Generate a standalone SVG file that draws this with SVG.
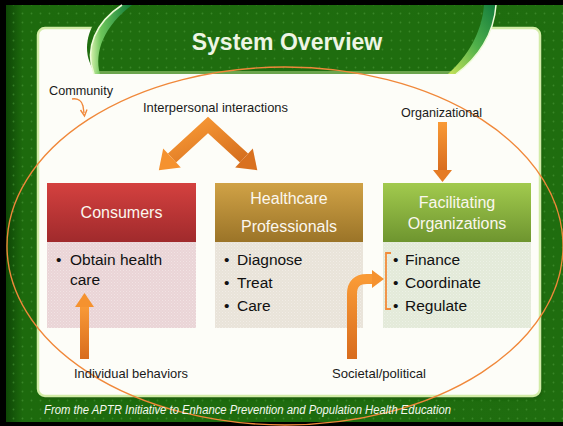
<svg xmlns="http://www.w3.org/2000/svg" width="563" height="426" viewBox="0 0 563 426">
  <defs>
    <style>
      .lbl { font-family: "Liberation Sans", Arial, sans-serif; font-size: 13px; fill: #1a1a1a; }
      .hdr { font-family: "Liberation Sans", Arial, sans-serif; font-size: 16px; fill: #fbf7ef; text-anchor: middle; }
      .item { font-family: "Liberation Sans", Arial, sans-serif; font-size: 15.5px; fill: #111; }
      .title { font-family: "Liberation Sans", Arial, sans-serif; font-size: 23px; font-weight: bold; fill: #eef5e4; text-anchor: middle; }
      .foot { font-family: "Liberation Sans", Arial, sans-serif; font-size: 12.5px; font-style: italic; fill: #f4f8ee; }
      .ring { fill: none; stroke: #f0883a; stroke-width: 1.4; }
      .shaft { fill: none; stroke-linejoin: miter; stroke-linecap: butt; }
    </style>
    <pattern id="dots" width="9" height="9" patternUnits="userSpaceOnUse">
      <circle cx="4.5" cy="4.5" r="0.9" fill="#4f9a3c" opacity="0.55"/>
    </pattern>
    <pattern id="weave" width="3" height="3" patternUnits="userSpaceOnUse">
      <rect x="0" y="0" width="1" height="1" fill="#ffffff" opacity="0.35"/>
      <rect x="1.5" y="1.5" width="1" height="1" fill="#ffffff" opacity="0.25"/>
    </pattern>
    <linearGradient id="bgEdge" x1="0" y1="0" x2="1" y2="0">
      <stop offset="0" stop-color="#0e4606"/>
      <stop offset="0.03" stop-color="#1d6a0d"/>
      <stop offset="1" stop-color="#1f6d0f"/>
    </linearGradient>
    <linearGradient id="gRed" x1="0" y1="0" x2="0" y2="1">
      <stop offset="0" stop-color="#d4413f"/>
      <stop offset="1" stop-color="#a02a2c"/>
    </linearGradient>
    <linearGradient id="gGold" x1="0" y1="0" x2="0" y2="1">
      <stop offset="0" stop-color="#d0a246"/>
      <stop offset="1" stop-color="#9b7428"/>
    </linearGradient>
    <linearGradient id="gGreen" x1="0" y1="0" x2="0" y2="1">
      <stop offset="0" stop-color="#a2ca4e"/>
      <stop offset="1" stop-color="#6e952f"/>
    </linearGradient>
    <linearGradient id="gOrange" x1="0" y1="0" x2="0" y2="1">
      <stop offset="0" stop-color="#f99a36"/>
      <stop offset="1" stop-color="#d86c1e"/>
    </linearGradient>
    <linearGradient id="gOrangeDiag" x1="0" y1="0" x2="1" y2="1">
      <stop offset="0" stop-color="#f99a36"/>
      <stop offset="1" stop-color="#d6701f"/>
    </linearGradient>
    <linearGradient id="swL" x1="0" y1="0" x2="1" y2="0">
      <stop offset="0" stop-color="#d9f2b0"/>
      <stop offset="0.25" stop-color="#6cc55a"/>
      <stop offset="1" stop-color="#0f7a3a"/>
    </linearGradient>
    <linearGradient id="swR" x1="0" y1="1" x2="1" y2="0">
      <stop offset="0" stop-color="#c8e35a"/>
      <stop offset="0.5" stop-color="#4fb04a"/>
      <stop offset="1" stop-color="#117a3c"/>
    </linearGradient>
    <filter id="soft" x="-5%" y="-5%" width="110%" height="110%">
      <feGaussianBlur stdDeviation="1.5"/>
    </filter>
  </defs>

  <!-- frame and green backdrop -->
  <rect x="0" y="0" width="563" height="426" fill="#000"/>
  <rect x="6" y="5" width="557" height="417" fill="url(#bgEdge)"/>
  <rect x="6" y="5" width="557" height="417" fill="url(#dots)"/>

  <!-- content panel -->
  <rect x="38" y="28" width="502" height="369" rx="8" fill="#1a5208" opacity="0.6" filter="url(#soft)" transform="translate(2,2)"/>
  <rect x="38" y="28" width="502" height="368" rx="7" fill="#fdfdf8" stroke="#d2eca6" stroke-width="2.5"/>

  <!-- title tab -->
  <path d="M 96,20 C 84,38 84,58 96,74 L 454,74 C 470,58 482,40 494,20 Z" fill="#1f6d0f"/>
  <path d="M 96,20 C 84,38 84,58 96,74 L 454,74 C 470,58 482,40 494,20 Z" fill="url(#dots)"/>
  <rect x="96" y="71" width="358" height="3" fill="#b9dd8e" opacity="0.5"/>
  <path d="M 122,5 C 96,22 84,48 94,74 L 100,74 C 94,52 104,26 132,5 Z" fill="url(#swL)"/>
  <path d="M 122,5 C 96,22 84,48 94,74" fill="none" stroke="#eefbd8" stroke-width="1.5"/>
  <path d="M 496,5 C 494,34 478,58 456,74 L 448,74 C 468,56 482,32 484,5 Z" fill="url(#swR)"/>
  <path d="M 496,5 C 494,34 478,58 456,74" fill="none" stroke="#eefbd8" stroke-width="1.5"/>
  <text class="title" x="287" y="50">System Overview</text>

  <!-- community boundary -->
  <ellipse class="ring" cx="285" cy="246" rx="278" ry="179"/>

  <!-- nodes -->
  <g id="consumers">
    <rect x="47" y="183" width="149" height="59" fill="url(#gRed)"/>
    <rect x="47" y="242" width="149" height="86" fill="#ead4d6"/>
    <rect x="47" y="242" width="149" height="86" fill="url(#weave)"/>
    <text class="hdr" x="121.5" y="218">Consumers</text>
    <text class="item" x="56" y="265">•</text>
    <text class="item" x="70" y="265">Obtain health</text>
    <text class="item" x="70" y="285">care</text>
  </g>

  <g id="healthcare-professionals">
    <rect x="215" y="183" width="148" height="59" fill="url(#gGold)"/>
    <rect x="215" y="242" width="148" height="86" fill="#e9e3d9"/>
    <rect x="215" y="242" width="148" height="86" fill="url(#weave)"/>
    <text class="hdr" x="289" y="204">Healthcare</text>
    <text class="hdr" x="289" y="232">Professionals</text>
    <text class="item" x="224" y="265">•</text>
    <text class="item" x="237" y="265">Diagnose</text>
    <text class="item" x="224" y="288">•</text>
    <text class="item" x="237" y="288">Treat</text>
    <text class="item" x="224" y="311">•</text>
    <text class="item" x="237" y="311">Care</text>
  </g>

  <g id="facilitating-organizations">
    <rect x="383" y="183" width="148" height="59" fill="url(#gGreen)"/>
    <rect x="383" y="242" width="148" height="86" fill="#e3ead9"/>
    <rect x="383" y="242" width="148" height="86" fill="url(#weave)"/>
    <text class="hdr" x="457" y="208">Facilitating</text>
    <text class="hdr" x="457" y="229">Organizations</text>
    <text class="item" x="393" y="265">•</text>
    <text class="item" x="405" y="265">Finance</text>
    <text class="item" x="393" y="288">•</text>
    <text class="item" x="405" y="288">Coordinate</text>
    <text class="item" x="393" y="311">•</text>
    <text class="item" x="405" y="311">Regulate</text>
  </g>

  <!-- influence labels -->
  <g id="labels">
    <text class="lbl" x="49" y="95" textLength="64" lengthAdjust="spacingAndGlyphs">Community</text>
    <text class="lbl" x="143" y="112" textLength="145" lengthAdjust="spacingAndGlyphs">Interpersonal interactions</text>
    <text class="lbl" x="401" y="117" textLength="81" lengthAdjust="spacingAndGlyphs">Organizational</text>
    <text class="lbl" x="74" y="378" textLength="114" lengthAdjust="spacingAndGlyphs">Individual behaviors</text>
    <text class="lbl" x="332" y="378" textLength="94" lengthAdjust="spacingAndGlyphs">Societal/political</text>
  </g>

  <!-- connectors -->
  <g id="connectors">
    <!-- community pointer -->
    <path d="M 72,99 C 78,98 82,101 83,106 L 84,113" fill="none" stroke="#f0883a" stroke-width="1.4"/>
    <path d="M 80.5,110 L 84.5,116 L 87,109.5" fill="none" stroke="#f0883a" stroke-width="1.4"/>

    <!-- interpersonal interactions: two-way chevron -->
    <polyline class="shaft" points="172,158 208,125 244,158" stroke="url(#gOrangeDiag)" stroke-width="12"/>
    <polygon points="158.8,170.2 180.8,167.6 163.2,148.4" fill="#f5922f"/>
    <polygon points="257.3,170.2 235.2,167.6 252.8,148.4" fill="#d9711f"/>

    <!-- organizational -->
    <rect x="438" y="122" width="9" height="49" fill="url(#gOrange)"/>
    <polygon points="433,170 452,170 442.5,182" fill="#e57b24"/>

    <!-- individual behaviors -->
    <rect x="80" y="306" width="9" height="53" fill="url(#gOrange)"/>
    <polygon points="75,307 94,307 84.5,293" fill="#f5922f"/>

    <!-- societal / political -->
    <path d="M 352,359 L 352,294 Q 352,279 367,279 L 373,279" class="shaft" stroke="url(#gOrange)" stroke-width="10"/>
    <polygon points="372,270 384,279 372,288" fill="#f5922f"/>

    <!-- bracket grouping the three functions -->
    <path d="M 391,253 L 386,253 L 386,309 L 391,309" fill="none" stroke="#f28c3a" stroke-width="1.8"/>
  </g>

  <text class="foot" x="44" y="414" textLength="407" lengthAdjust="spacingAndGlyphs">From the APTR Initiative to Enhance Prevention and Population Health Education</text>
</svg>
